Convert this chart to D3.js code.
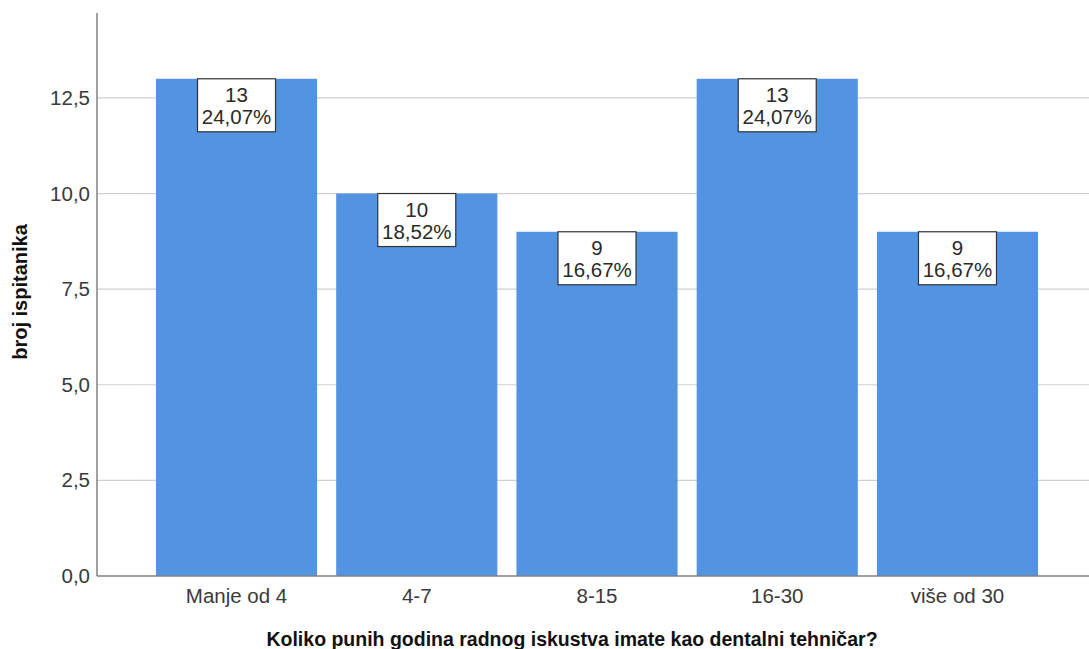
<!DOCTYPE html>
<html>
<head>
<meta charset="utf-8">
<script src="https://cdn.jsdelivr.net/npm/d3@7"></script>
<style>
  body { margin: 0; background: #fff; }
  text { font-family: "Liberation Sans", Arial, sans-serif; }
</style>
</head>
<body>
<svg id="chart"></svg>
<script>
const categories = ['Manje od 4', '4-7', '8-15', '16-30', 'više od 30'];
const counts = [13, 10, 9, 13, 9];
const percents = ['24,07%', '18,52%', '16,67%', '24,07%', '16,67%'];
const yTicks = [0, 2.5, 5, 7.5, 10, 12.5];

const W = 1089, H = 649;
const svg = d3.select('#chart').attr('width', W).attr('height', H);

const plotLeft = 97, plotRight = 1089, plotTop = 13, plotBottom = 576;

const x = d3.scaleBand()
  .domain(categories)
  .range([146.4, 1047.6])
  .paddingInner(0.106)
  .paddingOuter(0.053);

const y = d3.scaleLinear()
  .domain([0, 14.72])
  .range([plotBottom, plotTop]);

// gridlines
svg.append('g')
  .selectAll('line')
  .data(yTicks.slice(1))
  .enter()
  .append('line')
  .attr('x1', plotLeft).attr('x2', plotRight)
  .attr('y1', d => y(d)).attr('y2', d => y(d))
  .attr('stroke', '#cfcfcf')
  .attr('stroke-width', 1.2);

// bars
svg.append('g')
  .selectAll('rect')
  .data(counts)
  .enter()
  .append('rect')
  .attr('x', (d, i) => x(categories[i]))
  .attr('y', d => y(d))
  .attr('width', x.bandwidth())
  .attr('height', d => plotBottom - y(d))
  .attr('fill', '#5294e2');

// y axis
const yAxis = svg.append('g')
  .attr('transform', `translate(${plotLeft},0)`)
  .call(d3.axisLeft(y).tickValues(yTicks).tickSize(0).tickPadding(7)
    .tickFormat(d => d3.format('.1f')(d).replace('.', ',')));
yAxis.select('.domain').remove();
yAxis.selectAll('text')
  .attr('font-size', 20.5)
  .attr('font-family', '"Liberation Sans", Arial, sans-serif')
  .attr('fill', '#3a3a3a');

// x axis
const xAxis = svg.append('g')
  .attr('transform', `translate(0,${plotBottom})`)
  .call(d3.axisBottom(x).tickSize(0).tickPadding(12));
xAxis.select('.domain').remove();
xAxis.selectAll('text')
  .attr('font-size', 20.5)
  .attr('font-family', '"Liberation Sans", Arial, sans-serif')
  .attr('fill', '#3a3a3a');

// axis lines
svg.append('line')
  .attr('x1', plotLeft).attr('x2', plotLeft).attr('y1', plotTop).attr('y2', plotBottom)
  .attr('stroke', '#808080').attr('stroke-width', 1.5);
svg.append('line')
  .attr('x1', plotLeft).attr('x2', plotRight).attr('y1', plotBottom).attr('y2', plotBottom)
  .attr('stroke', '#808080').attr('stroke-width', 1.5);

// value labels
const labels = svg.append('g')
  .selectAll('g')
  .data(counts)
  .enter()
  .append('g')
  .attr('transform', (d, i) => `translate(${x(categories[i]) + x.bandwidth() / 2},${y(d)})`);

labels.append('rect')
  .attr('x', -39)
  .attr('y', 0)
  .attr('width', 78)
  .attr('height', 53)
  .attr('fill', '#fff')
  .attr('stroke', '#333')
  .attr('stroke-width', 1.2);

labels.append('text')
  .attr('text-anchor', 'middle')
  .attr('y', 23)
  .attr('font-size', 20.5)
  .attr('fill', '#2a2a2a')
  .text(d => d);

labels.append('text')
  .attr('text-anchor', 'middle')
  .attr('y', 45)
  .attr('font-size', 20.5)
  .attr('fill', '#2a2a2a')
  .text((d, i) => percents[i]);

// axis titles
svg.append('text')
  .attr('x', 572)
  .attr('y', 646)
  .attr('text-anchor', 'middle')
  .attr('font-size', 19.5)
  .attr('font-weight', 'bold')
  .attr('fill', '#111')
  .text('Koliko punih godina radnog iskustva imate kao dentalni tehničar?');

svg.append('text')
  .attr('transform', 'translate(27,292) rotate(-90)')
  .attr('text-anchor', 'middle')
  .attr('font-size', 20)
  .attr('font-weight', 'bold')
  .attr('fill', '#111')
  .text('broj ispitanika');
</script>
</body>
</html>
